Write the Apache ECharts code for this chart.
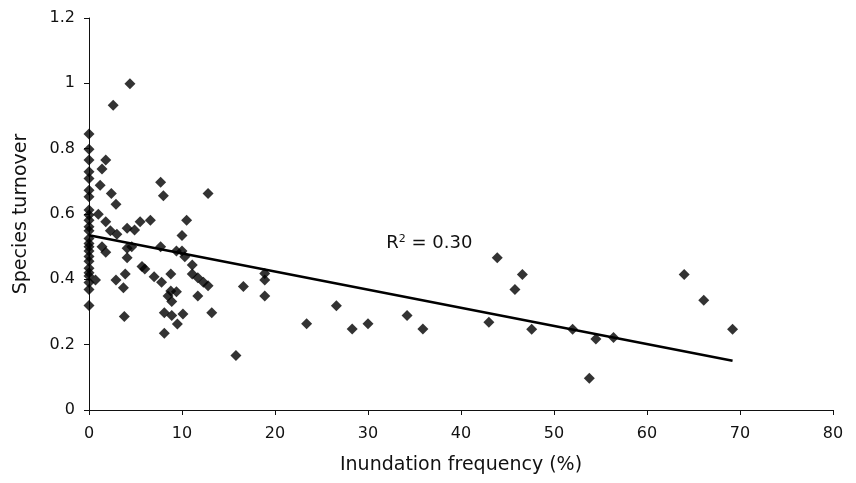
<!DOCTYPE html>
<html>
<head>
<meta charset="utf-8">
<script src="https://cdn.jsdelivr.net/npm/echarts@6/dist/echarts.min.js"></script>
<style>html,body{margin:0;padding:0;background:#fff;}#c{width:856px;height:483px;}</style>
</head>
<body>
<div id="c"></div>
<script>
var xValues = [0,0,0,0,0,0,0,0,0,0,0,0,0,0,0,0,0,0,0,0,0,0,0,0,
  4.4,2.6,1.8,1.4,1.2,7.7,8.0,12.8,2.4,2.9,1.0,1.8,5.5,6.6,10.5,2.3,3.0,4.1,4.9,10.0,
  1.4,1.8,4.1,4.6,4.1,7.7,9.4,10.0,10.3,11.1,5.7,6.0,11.7,12.3,12.8,3.9,2.9,7.0,8.8,7.8,
  3.7,8.8,0.7,11.1,9.4,8.5,8.9,11.7,8.1,8.9,10.1,13.2,9.5,8.1,15.8,3.8,16.6,18.9,18.9,18.9,
  23.4,26.6,28.3,30.0,34.2,35.9,43.0,43.9,45.8,46.6,47.6,52.0,53.8,54.5,56.4,64.0,66.1,69.2];
var yValues = [0.845,0.798,0.765,0.729,0.709,0.673,0.653,0.612,0.597,0.581,0.561,0.549,0.525,0.51,0.5,0.487,0.47,0.455,0.434,0.42,0.41,0.39,0.369,0.32,
  0.999,0.933,0.765,0.738,0.688,0.697,0.656,0.663,0.663,0.630,0.599,0.576,0.576,0.581,0.581,0.549,0.538,0.556,0.551,0.534,
  0.500,0.483,0.495,0.500,0.466,0.500,0.487,0.487,0.469,0.444,0.439,0.432,0.405,0.391,0.380,0.416,0.398,0.408,0.416,0.391,
  0.374,0.364,0.398,0.416,0.362,0.349,0.332,0.349,0.298,0.289,0.294,0.298,0.263,0.235,0.167,0.286,0.378,0.418,0.398,0.349,
  0.264,0.319,0.248,0.264,0.289,0.248,0.269,0.466,0.369,0.415,0.247,0.247,0.097,0.217,0.222,0.415,0.336,0.247];
var trendX = [0, 69.2];
var trendY = [0.535, 0.151];
var r2Text = '0.30';
var r2Pos = [36.6, 0.511];
var xTitle = 'Inundation frequency (%)';
var yTitle = 'Species turnover';

var pts = xValues.map(function(x, i){ return [x, yValues[i]]; });
var trend = trendX.map(function(x, i){ return [x, trendY[i]]; });
var font = 'DejaVu Sans';
var txt = '#111';
var chart = echarts.init(document.getElementById('c'), null, {renderer: 'canvas'});
chart.setOption({
  animation: false,
  backgroundColor: '#fff',
  grid: {left: 89, right: 23, top: 18, bottom: 73, containLabel: false},
  xAxis: {
    type: 'value', min: 0, max: 80, interval: 10,
    name: xTitle, nameLocation: 'middle', nameGap: 46,
    nameTextStyle: {fontFamily: font, fontSize: 19, color: txt},
    axisLine: {onZero: false, lineStyle: {color: '#111', width: 1}},
    axisTick: {show: true, length: 5, lineStyle: {color: '#111'}},
    axisLabel: {fontFamily: font, fontSize: 16, color: txt, margin: 16},
    splitLine: {show: false}
  },
  yAxis: {
    type: 'value', min: 0, max: 1.2, interval: 0.2,
    name: yTitle, nameLocation: 'middle', nameGap: 58,
    nameTextStyle: {fontFamily: font, fontSize: 19, color: txt},
    axisLine: {show: true, lineStyle: {color: '#111', width: 1}},
    axisTick: {show: true, length: 5, lineStyle: {color: '#111'}},
    axisLabel: {fontFamily: font, fontSize: 16, color: txt, margin: 14},
    splitLine: {show: false}
  },
  series: [
    {
      type: 'line', data: trend, showSymbol: false, symbol: 'none',
      lineStyle: {color: '#000', width: 2.5}, z: 2,
      markPoint: {
        symbol: 'circle', symbolSize: 0,
        data: [{coord: r2Pos, value: r2Text}],
        label: {
          show: true, position: 'inside',
          formatter: 'R{sup|2} = ' + r2Text,
          fontFamily: font, fontSize: 18, color: txt,
          rich: {sup: {fontFamily: font, fontSize: 11, color: txt, verticalAlign: 'top', padding: [0,0,8,0]}}
        }
      }
    },
    {
      type: 'scatter', data: pts, symbol: 'diamond', symbolSize: 11,
      itemStyle: {color: '#000'}, z: 3
    }
  ]
});
</script>
</body>
</html>
